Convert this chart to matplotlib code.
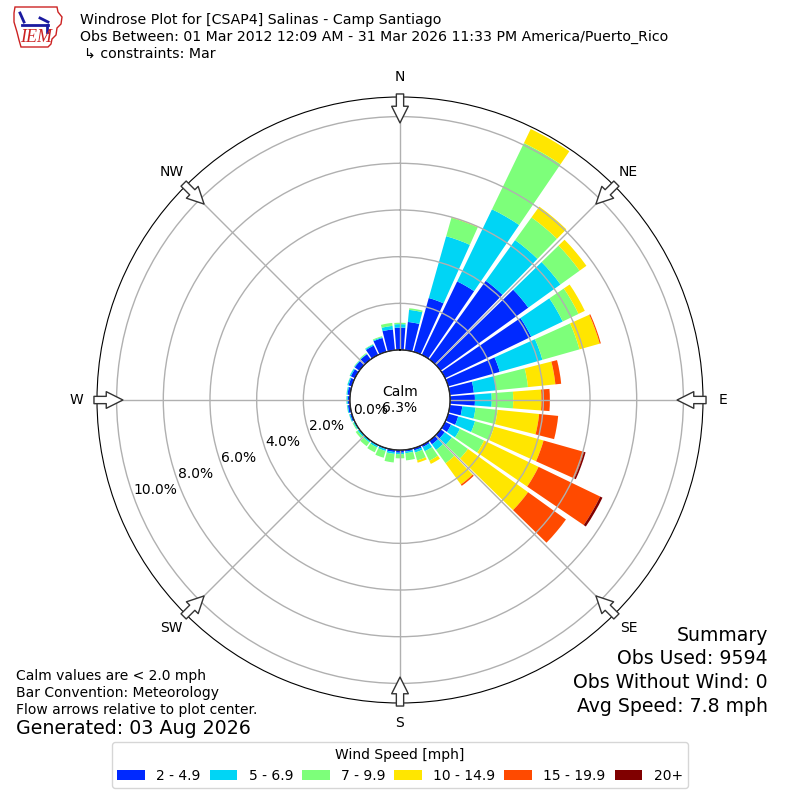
import matplotlib
matplotlib.use('Agg')
import numpy as np
import matplotlib.pyplot as plt
from matplotlib.patches import Patch, Polygon
from matplotlib.lines import Line2D

# direction bins (deg, meteorological) and percent frequency per speed class
directions = np.arange(0, 360, 10)
speed_labels = ['2 - 4.9', '5 - 6.9', '7 - 9.9', '10 - 14.9', '15 - 19.9', '20+']
speed_colors = ['#0029ff', '#00d5f5', '#7dff7a', '#ffe600', '#ff4a00', '#800000']

pct_2_5 = [0.96, 1.22, 2.40, 3.50, 4.15, 4.63, 4.10, 2.30, 1.04, 1.07, 0.54, 0.45,
           0.29, 0.22, 0.20, 0.10, 0.10, 0.08, 0.12, 0.10, 0.05, 0.04, 0.03, 0.03,
           0.03, 0.08, 0.10, 0.10, 0.12, 0.15, 0.20, 0.25, 0.28, 0.45, 0.62, 0.90]
pct_5_7 = [0.15, 0.52, 2.75, 3.43, 2.15, 1.70, 1.50, 1.90, 0.96, 0.72, 0.57, 0.75,
           0.42, 0.38, 0.30, 0.20, 0.10, 0.07, 0.06, 0.08, 0.08, 0.08, 0.07, 0.07,
           0.05, 0.04, 0.04, 0.05, 0.04, 0.05, 0.05, 0.03, 0.02, 0.05, 0.04, 0.15]
pct_7_10 = [0.06, 0.07, 0.82, 3.15, 1.20, 1.01, 0.75, 1.65, 1.37, 0.92, 0.95, 0.85,
            1.15, 0.85, 0.70, 0.45, 0.35, 0.31, 0.18, 0.37, 0.30, 0.23, 0.20, 0.10,
            0.04, 0.01, 0.01, 0.01, 0.01, 0.01, 0.01, 0.02, 0.04, 0.02, 0.04, 0.13]
pct_10_15 = [0.00, 0.00, 0.03, 0.67, 0.57, 0.36, 0.30, 0.90, 1.18, 1.21, 1.79, 2.20,
             2.59, 3.17, 1.12, 0.15, 0.10, 0.00, 0.00, 0.00, 0.00, 0.00, 0.00, 0.00,
             0.00, 0.00, 0.00, 0.00, 0.00, 0.00, 0.00, 0.00, 0.00, 0.00, 0.00, 0.00]
pct_15_20 = [0.00, 0.00, 0.00, 0.00, 0.00, 0.00, 0.00, 0.05, 0.25, 0.36, 0.82, 1.80,
             2.93, 2.00, 0.07, 0.00, 0.00, 0.00, 0.00, 0.00, 0.00, 0.00, 0.00, 0.00,
             0.00, 0.00, 0.00, 0.00, 0.00, 0.00, 0.00, 0.00, 0.00, 0.00, 0.00, 0.00]
pct_20_up = [0.00, 0.00, 0.00, 0.00, 0.00, 0.00, 0.00, 0.00, 0.00, 0.00, 0.00, 0.07,
             0.11, 0.00, 0.00, 0.00, 0.00, 0.00, 0.00, 0.00, 0.00, 0.00, 0.00, 0.00,
             0.00, 0.00, 0.00, 0.00, 0.00, 0.00, 0.00, 0.00, 0.00, 0.00, 0.00, 0.00]

calm_pct = 6.3
ring_values = [0, 2, 4, 6, 8, 10]
compass = ['N', 'NE', 'E', 'SE', 'S', 'SW', 'W', 'NW']

fig = plt.figure(figsize=(8, 8), dpi=100)
ax = fig.add_axes([0.12125, 0.12125, 0.7575, 0.7575], projection='polar')
ax.set_theta_zero_location('N')
ax.set_theta_direction(-1)

theta = np.deg2rad(directions)
bottom = np.zeros(len(directions))
for vals, c in zip([pct_2_5, pct_5_7, pct_7_10, pct_10_15, pct_15_20, pct_20_up],
                   speed_colors):
    vals = np.array(vals)
    ax.bar(theta, vals, width=np.deg2rad(8.5), bottom=bottom, color=c, linewidth=0)
    bottom += vals

ax.set_rorigin(-2.14)
ax.set_ylim(0, 10.84)
ax.set_rgrids(ring_values, ['%.1f%%' % v for v in ring_values], angle=250, fontsize=10)
ax.set_thetagrids(range(0, 360, 45), compass, fontsize=10)
ax.tick_params(axis='x', pad=4)
ax.grid(color='#b0b0b0', lw=1)
ax.set_axisbelow(False)

# calm circle
circ = np.linspace(0, 2 * np.pi, 361)
ax.plot(circ, np.zeros_like(circ), color='black', lw=1, zorder=4)
ax.text(0.5, 0.5, 'Calm\n%.1f%%' % calm_pct, transform=ax.transAxes,
        ha='center', va='center', fontsize=10)

# flow arrows on the rim
for ang in range(0, 360, 45):
    ax.annotate('', xy=(np.deg2rad(ang), 9.73), xytext=(np.deg2rad(ang), 10.97),
                arrowprops=dict(arrowstyle='simple,head_length=0.8,head_width=0.8,tail_width=0.35',
                                fc='white', ec='#333333', lw=1, shrinkA=0, shrinkB=0,
                                mutation_scale=15),
                annotation_clip=False, zorder=5)

# header text
fig.text(0.1, 0.975, 'Windrose Plot for [CSAP4] Salinas - Camp Santiago', fontsize=10.15, va='center')
fig.text(0.1, 0.954, 'Obs Between: 01 Mar 2012 12:09 AM - 31 Mar 2026 11:33 PM America/Puerto_Rico',
         fontsize=10.15, va='center')
fig.text(0.105, 0.9325, '\u21b3 constraints: Mar', fontsize=10.15, va='center')

# footer text
fig.text(0.02, 0.155, 'Calm values are < 2.0 mph', fontsize=10, va='center')
fig.text(0.02, 0.134, 'Bar Convention: Meteorology', fontsize=10, va='center')
fig.text(0.02, 0.1125, 'Flow arrows relative to plot center.', fontsize=10, va='center')
fig.text(0.02, 0.089, 'Generated: 03 Aug 2026', fontsize=13.7, va='center')

fig.text(0.96, 0.206, 'Summary', fontsize=13.6, ha='right', va='center')
fig.text(0.96, 0.1775, 'Obs Used: 9594', fontsize=13.6, ha='right', va='center')
fig.text(0.96, 0.1475, 'Obs Without Wind: 0', fontsize=13.6, ha='right', va='center')
fig.text(0.96, 0.1175, 'Avg Speed: 7.8 mph', fontsize=13.6, ha='right', va='center')

# rough IEM logo
iowa = [(15, 7), (57, 7), (58, 12), (62, 17), (61, 24), (57, 28), (56, 35), (52, 39),
        (51, 44), (48, 47), (21, 47), (19, 40), (17, 32), (14, 22), (14, 13)]
fig.patches.append(Polygon([(x / 800, 1 - y / 800) for x, y in iowa], closed=True,
                           fill=False, ec='#cc2222', lw=1, transform=fig.transFigure))
for seg in [[(20, 13), (24, 22)], [(22, 25), (48, 25)], [(40, 18), (48, 22)], [(47, 25), (47, 32)]]:
    fig.lines.append(Line2D([p[0] / 800 for p in seg], [1 - p[1] / 800 for p in seg],
                            color='#1a1aa0', lw=2, transform=fig.transFigure))
fig.text(36 / 800, 1 - 38 / 800, 'IEM', color='#cc2222', fontsize=13, style='italic',
         family='Liberation Serif', ha='center', va='center')

handles = [Patch(facecolor=c, label=l) for c, l in zip(speed_colors, speed_labels)]
fig.legend(handles=handles, loc='lower center', bbox_to_anchor=(0.5, 0.006), ncol=6,
           title='Wind Speed [mph]', fontsize=10, title_fontsize=10, columnspacing=0.65)

fig.savefig('out.png')
